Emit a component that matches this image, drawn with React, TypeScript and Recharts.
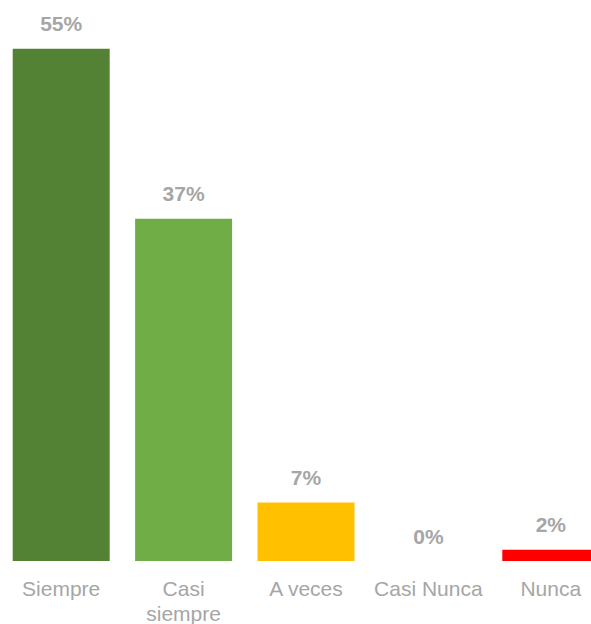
import { BarChart, Bar, XAxis, YAxis, Cell, LabelList } from "recharts";

const categories = ["Siempre", "Casi siempre", "A veces", "Casi Nunca", "Nunca"];
const shares = [55, 37, 7, 0, 2];
const barColors = ["#548235", "#70ad47", "#ffc000", "#a5a5a5", "#ff0000"];

const data = categories.map((name, i) => ({ name, value: shares[i] }));

const GRAY = "#a6a6a6";
const FONT = "'Liberation Sans', Arial, sans-serif";

// ticks wrap on spaces only when the label is too long for the band
const wrapLabel = (s: string) => (s === "Casi siempre" ? ["Casi", "siempre"] : [s]);

function CategoryTick(props: any) {
  const { x, y, payload } = props;
  const lines = wrapLabel(String(payload.value));
  return (
    <text x={x} y={y} textAnchor="middle" fill={GRAY} fontSize={21} fontFamily={FONT}>
      {lines.map((l, i) => (
        <tspan key={l} x={x} dy={i === 0 ? 35 : 24.5}>
          {l}
        </tspan>
      ))}
    </text>
  );
}

function ValueLabel(props: any) {
  const { x, y, width, height, value } = props;
  // bars sitting below the axis floor get their label on the floor
  const top = Math.min(y, y + height);
  return (
    <text
      x={x + width / 2}
      y={top - 17.5}
      textAnchor="middle"
      fill={GRAY}
      fontSize={21}
      fontWeight="bold"
      fontFamily={FONT}
    >
      {`${value}%`}
    </text>
  );
}

export default function App() {
  return (
    <div
      style={{
        position: "absolute",
        left: 0,
        top: 0,
        width: 591,
        height: 624,
        overflow: "hidden",
        background: "#fff",
      }}
    >
      <BarChart
        width={612}
        height={624}
        data={data}
        margin={{ top: 1.4, right: 0, bottom: 0, left: 0 }}
        barCategoryGap="10.38%"
      >
        <XAxis
          dataKey="name"
          height={63}
          axisLine={false}
          tickLine={false}
          tickSize={0}
          tickMargin={0}
          interval={0}
          tick={<CategoryTick />}
        />
        <YAxis hide domain={[0.8, 60]} allowDataOverflow />
        <Bar dataKey="value" isAnimationActive={false}>
          {data.map((d, i) => (
            <Cell key={d.name} fill={barColors[i]} />
          ))}
          <LabelList dataKey="value" content={<ValueLabel />} />
        </Bar>
      </BarChart>
    </div>
  );
}
